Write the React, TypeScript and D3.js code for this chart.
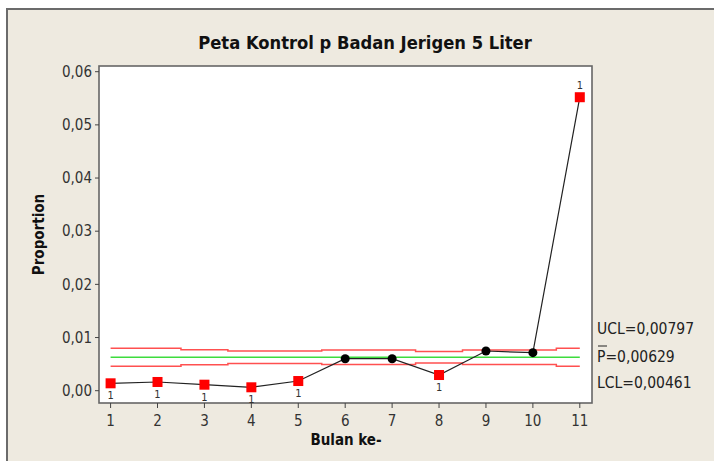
import React from 'react';
import * as d3 from 'd3';

// sample numbers (bulan ke-)
const samples = [1, 2, 3, 4, 5, 6, 7, 8, 9, 10, 11];
// proportion defective per month
const proportions = [0.00139, 0.00164, 0.00113, 0.00064, 0.00182, 0.00602, 0.00602, 0.00295, 0.00747, 0.00715, 0.0552];
// limits vary with sample size
const ucl = [0.00797, 0.00797, 0.00771, 0.00747, 0.00747, 0.00767, 0.00767, 0.00735, 0.00767, 0.00767, 0.00797];
const lcl = [0.00461, 0.00461, 0.00487, 0.00511, 0.00511, 0.00491, 0.00491, 0.00523, 0.00491, 0.00491, 0.00461];
const pBar = 0.00629;
// points flagged by test 1
const flagged = [true, true, true, true, true, false, false, true, false, false, true];
const yTicks = [0, 0.01, 0.02, 0.03, 0.04, 0.05, 0.06];

const W = 714;
const H = 461;
const plot = { left: 99, top: 66, right: 592, bottom: 403 };
const font = '"DejaVu Sans Condensed", "DejaVu Sans", sans-serif';

const fmt = (v: number) => v.toFixed(2).replace('.', ',');

export default function App() {
  const x = d3.scaleLinear().domain([0.753, 11.26]).range([plot.left, plot.right]);
  const y = d3.scaleLinear().domain([0, 0.06]).range([390.7, 71.7]);

  const stepLine = d3.line<number>()
    .x((_, i) => x(samples[i]))
    .y(d => y(d))
    .curve(d3.curveStep);

  const dataLine = d3.line<number>()
    .x((_, i) => x(samples[i]))
    .y(d => y(d));

  const centerY = y(pBar);

  return (
    <svg width={W} height={H} style={{ position: 'absolute', left: 0, top: 0 }} fontFamily={font}>
      <rect x={0} y={0} width={W} height={H} fill="#ffffff" />
      <rect x={7} y={9} width={W} height={H} fill="#eeeae0" stroke="#6b6b6b" strokeWidth={2} />

      <text x={365} y={49} textAnchor="middle" fontSize={18.2} fontWeight="bold" fill="#111">
        Peta Kontrol p Badan Jerigen 5 Liter
      </text>

      {/* plot area */}
      <rect x={plot.left} y={plot.top} width={plot.right - plot.left} height={plot.bottom - plot.top}
        fill="#ffffff" stroke="#666" strokeWidth={1.6} />

      {/* y axis */}
      {yTicks.map(t => (
        <g key={t}>
          <line x1={plot.left - 4} x2={plot.left} y1={y(t)} y2={y(t)} stroke="#444" />
          <text x={plot.left - 7} y={y(t)} dy="0.35em" textAnchor="end" fontSize={15} fill="#333">{fmt(t)}</text>
        </g>
      ))}
      <text transform={`translate(44,${(plot.top + plot.bottom) / 2}) rotate(-90)`} textAnchor="middle"
        fontSize={15} fontWeight="bold" fill="#111">Proportion</text>

      {/* x axis */}
      {samples.map(s => (
        <g key={s}>
          <line x1={x(s)} x2={x(s)} y1={plot.bottom} y2={plot.bottom + 5} stroke="#444" />
          <text x={x(s)} y={426} textAnchor="middle" fontSize={15} fill="#333">{s}</text>
        </g>
      ))}
      <text x={346} y={445} textAnchor="middle" fontSize={15} fontWeight="bold" fill="#111">Bulan ke-</text>

      {/* control limits */}
      <path d={stepLine(ucl) ?? ''} fill="none" stroke="#ff5050" strokeWidth={1.5} />
      <path d={stepLine(lcl) ?? ''} fill="none" stroke="#ff5050" strokeWidth={1.5} />
      <line x1={x(1)} x2={x(11)} y1={centerY} y2={centerY} stroke="#3ddc3d" strokeWidth={1.5} />

      {/* data */}
      <path d={dataLine(proportions) ?? ''} fill="none" stroke="#222" strokeWidth={1.2} />
      {proportions.map((p, i) => flagged[i] ? (
        <g key={i}>
          <rect x={x(samples[i]) - 5} y={y(p) - 5} width={10} height={10} fill="#ff0000" />
          <text x={x(samples[i])} y={i === 10 ? y(p) - 12 : y(p) + 12} dy="0.35em" textAnchor="middle"
            fontSize={11} fill="#333">1</text>
        </g>
      ) : (
        <circle key={i} cx={x(samples[i])} cy={y(p)} r={4.5} fill="#000" />
      ))}

      {/* limit labels */}
      <text x={597} y={329} dy="0.35em" fontSize={15.5} fill="#222">UCL=0,00797</text>
      <text x={597} y={357} dy="0.35em" fontSize={15.5} fill="#222">P=0,00629</text>
      <line x1={598} x2={607} y1={346} y2={346} stroke="#222" strokeWidth={1} />
      <text x={597} y={383} dy="0.35em" fontSize={15.5} fill="#222">LCL=0,00461</text>
    </svg>
  );
}
